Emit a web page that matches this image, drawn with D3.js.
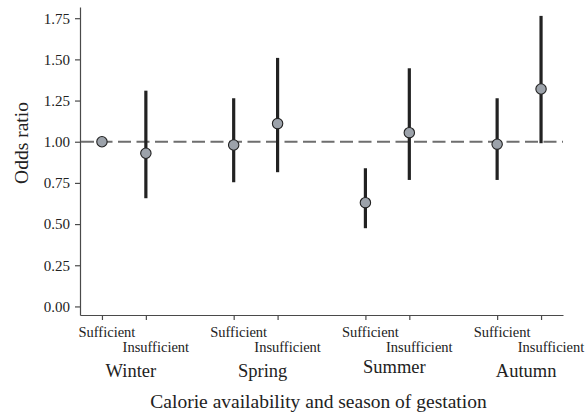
<!DOCTYPE html>
<html>
<head>
<meta charset="utf-8">
<script src="https://cdn.jsdelivr.net/npm/d3@7"></script>
<style>
  body { margin: 0; background: #fff; }
  svg { display: block; font-family: 'Liberation Serif', 'Times New Roman', serif; }
  .axis path, .axis line { stroke: #4a4a4a; stroke-width: 1.2; }
  .axis text { font-size: 15px; fill: #222; font-family: 'Liberation Serif', serif; }
</style>
</head>
<body>
<svg id="chart" width="587" height="414"></svg>
<script>
var seasons = ['Winter', 'Spring', 'Summer', 'Autumn']
var availability = ['Sufficient', 'Insufficient']
// one value per season x availability, in order W-S, W-I, Sp-S, Sp-I, ...
var oddsRatio = [1.00, 0.93, 0.98, 1.11, 0.63, 1.055, 0.985, 1.32]
var lower = [null, 0.657, 0.754, 0.815, 0.475, 0.768, 0.768, 0.991]
var upper = [null, 1.31, 1.264, 1.509, 0.839, 1.446, 1.264, 1.764]
var yTicks = [0, 0.25, 0.5, 0.75, 1.0, 1.25, 1.5, 1.75]

;(function () {
    'use strict'

    var svg = d3.select('#chart')

    var left = 80,
        right = 563,
        top = 7,
        bottom = 315

    // slots 1,2 4,5 7,8 10,11 - a gap slot between seasons
    var x = d3.scaleLinear().domain([0.5, 11.5]).range([left, right])
    var y = d3.scaleLinear().domain([-0.052, 1.818]).range([bottom, top])

    var rows = []
    seasons.forEach(function (s, i) {
        availability.forEach(function (a, j) {
            var k = i * 2 + j
            rows.push({
                season: s,
                avail: a,
                slot: 1 + i * 3 + j,
                or: oddsRatio[k],
                lo: lower[k],
                hi: upper[k]
            })
        })
    })

    // axes
    svg.append('g')
        .attr('class', 'axis')
        .attr('transform', 'translate(' + left + ',0)')
        .call(d3.axisLeft(y).tickValues(yTicks).tickFormat(d3.format('.2f'))
            .tickSize(5).tickSizeOuter(0).tickPadding(5))

    svg.append('g')
        .attr('class', 'axis')
        .attr('transform', 'translate(0,' + bottom + ')')
        .call(d3.axisBottom(x).tickValues(rows.map(function (d) { return d.slot }))
            .tickFormat('').tickSize(5).tickSizeOuter(0))

    // reference line at 1
    svg.append('line')
        .attr('x1', left + 1).attr('x2', right)
        .attr('y1', y(1)).attr('y2', y(1))
        .attr('stroke', '#6e6e6e')
        .attr('stroke-width', 2)
        .attr('stroke-dasharray', '13,5.5')

    // intervals
    svg.append('g').selectAll('line')
        .data(rows.filter(function (d) { return d.lo != null }))
        .enter().append('line')
        .attr('x1', function (d) { return x(d.slot) })
        .attr('x2', function (d) { return x(d.slot) })
        .attr('y1', function (d) { return y(d.lo) })
        .attr('y2', function (d) { return y(d.hi) })
        .attr('stroke', '#222')
        .attr('stroke-width', 3.2)

    svg.append('g').selectAll('circle')
        .data(rows)
        .enter().append('circle')
        .attr('cx', function (d) { return x(d.slot) })
        .attr('cy', function (d) { return y(d.or) })
        .attr('r', 5.2)
        .attr('fill', '#9ca2aa')
        .attr('stroke', '#222')
        .attr('stroke-width', 1.1)

    // category labels
    svg.append('g').selectAll('text')
        .data(rows)
        .enter().append('text')
        .attr('x', function (d) { return x(d.slot) + (d.avail === 'Sufficient' ? 5 : 10) })
        .attr('y', function (d) { return d.avail === 'Sufficient' ? 336.5 : 352 })
        .attr('text-anchor', 'middle')
        .style('font-size', '14.5px')
        .attr('fill', '#222')
        .text(function (d) { return d.avail })

    var seasonDy = [0, 0, -4, 0]
    svg.append('g').selectAll('text')
        .data(seasons)
        .enter().append('text')
        .attr('x', function (d, i) { return x(1.5 + i * 3) + 7 })
        .attr('y', function (d, i) { return 377 + seasonDy[i] })
        .attr('text-anchor', 'middle')
        .style('font-size', '18.5px')
        .attr('fill', '#222')
        .text(function (d) { return d })

    // titles
    svg.append('text')
        .attr('x', (left + right) / 2 - 3)
        .attr('y', 408)
        .attr('text-anchor', 'middle')
        .style('font-size', '19.5px')
        .attr('fill', '#222')
        .text('Calorie availability and season of gestation')

    svg.append('text')
        .attr('transform', 'translate(28,143) rotate(-90)')
        .attr('text-anchor', 'middle')
        .style('font-size', '19.5px')
        .attr('fill', '#222')
        .text('Odds ratio')
})()
</script>
</body>
</html>
